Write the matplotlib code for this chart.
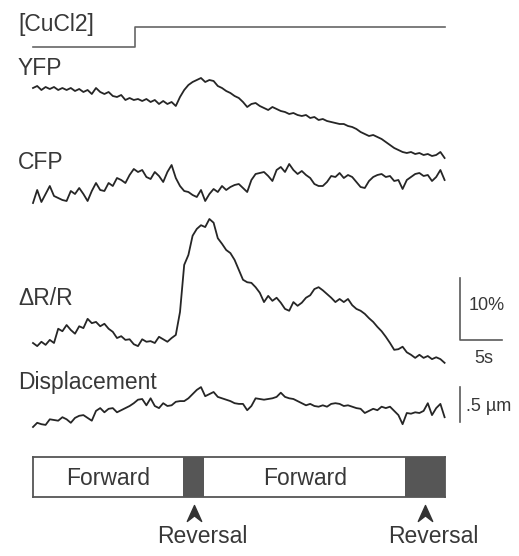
import numpy as np
import matplotlib.pyplot as plt
from matplotlib.path import Path

plt.rcParams["font.family"] = ["Liberation Sans", "DejaVu Sans"]

W, H = 519, 556
ink = "#262626"
grey = "#5a5a5a"
text_col = "#383838"

# sampling interval of the traces (s)
dt = 0.5

# CuCl2 application (step)
cucl2_time = [0, 12.1, 12.1, 49]
cucl2_on = [0, 0, 1, 1]

# YFP fluorescence (a.u.)
yfp = [
    72, 74, 70, 73, 71, 73, 70, 72, 70, 72,
    69, 71, 68, 70, 66, 72, 68, 66, 68, 64,
    63, 65, 60, 62, 60, 61, 59, 61, 58, 60,
    56, 59, 56, 58, 54, 63, 70, 75, 78, 80,
    82, 78, 80, 79, 74, 72, 69, 67, 64, 62,
    58, 53, 56, 57, 54, 52, 50, 53, 51, 49,
    48, 46, 47, 45, 44, 45, 42, 43, 40, 41,
    39, 38, 37, 36, 36, 34, 33, 31, 28, 26,
    24, 25, 23, 21, 18, 15, 12, 10, 8, 7,
    8, 6, 7, 5, 6, 4, 5, 8, 2,
]

# CFP fluorescence (a.u.)
cfp = [
    7, 20, 8, 16, 24, 14, 12, 10, 9, 19,
    16, 22, 16, 9, 19, 27, 20, 19, 27, 24,
    32, 30, 27, 35, 41, 38, 40, 33, 31, 38,
    34, 28, 38, 45, 32, 24, 19, 18, 15, 13,
    20, 9, 16, 21, 18, 24, 20, 23, 25, 26,
    22, 18, 30, 36, 37, 38, 34, 29, 40, 43,
    38, 46, 40, 36, 39, 35, 32, 26, 24, 24,
    28, 34, 33, 37, 32, 35, 33, 28, 23, 22,
    29, 33, 35, 36, 33, 34, 29, 30, 21, 30,
    33, 36, 37, 34, 35, 29, 33, 40, 30,
]

# ratio change dR/R (%)
ratio = [
    0.0, -0.5, 0.2, -0.3, 0.5, 0.0, 2.3, 1.9, 2.9, 2.1,
    1.5, 2.7, 2.4, 3.9, 3.2, 3.4, 2.7, 3.1, 2.3, 1.8,
    0.8, 1.1, 0.5, 0.6, -0.2, -0.5, 0.6, 0.2, 0.3, 0.0,
    1.0, 0.6, 0.2, 0.8, 1.3, 5.0, 12.6, 14.2, 17.3, 18.4,
    19.0, 18.7, 20.0, 19.4, 16.9, 16.0, 15.0, 14.5, 13.4, 11.8,
    10.2, 9.8, 9.7, 9.0, 8.1, 6.6, 7.6, 6.8, 7.3, 6.5,
    5.5, 5.2, 6.6, 6.0, 6.5, 7.3, 7.7, 8.7, 9.0, 8.5,
    7.9, 7.3, 6.6, 7.1, 6.6, 7.1, 6.1, 5.5, 5.2, 4.7,
    4.0, 3.4, 2.6, 1.9, 1.0, 0.0, -1.1, -1.0, -0.6, -1.5,
    -1.9, -2.4, -1.9, -2.4, -2.1, -2.6, -2.3, -2.6, -3.2,
]

# head displacement (um)
displacement = [
    0.00, 0.06, 0.04, 0.03, 0.11, 0.10, 0.09, 0.14, 0.11, 0.06,
    0.13, 0.16, 0.17, 0.13, 0.09, 0.23, 0.27, 0.21, 0.26, 0.27,
    0.21, 0.24, 0.27, 0.30, 0.34, 0.39, 0.40, 0.31, 0.41, 0.30,
    0.27, 0.34, 0.30, 0.31, 0.36, 0.37, 0.37, 0.41, 0.47, 0.53,
    0.57, 0.44, 0.47, 0.50, 0.43, 0.41, 0.39, 0.37, 0.34, 0.33,
    0.33, 0.24, 0.30, 0.41, 0.40, 0.39, 0.40, 0.41, 0.43, 0.49,
    0.43, 0.41, 0.40, 0.37, 0.34, 0.31, 0.33, 0.30, 0.29, 0.31,
    0.29, 0.33, 0.34, 0.33, 0.30, 0.31, 0.29, 0.27, 0.26, 0.20,
    0.23, 0.26, 0.24, 0.29, 0.27, 0.29, 0.23, 0.17, 0.04, 0.20,
    0.19, 0.21, 0.20, 0.23, 0.34, 0.17, 0.27, 0.33, 0.14,
]

# behaviour (s)
reversal_start = [17.9, 44.3]
reversal_length = [2.5, 4.7]
forward_start = [0.0, 20.4]
forward_end = [17.9, 44.3]

t = np.arange(len(yfp)) * dt
t_end = 49

fig = plt.figure(figsize=(W / 100, H / 100), dpi=100)

# page axes in pixel units, for the labels
page = fig.add_axes([0, 0, 1, 1])
page.set_xlim(0, W)
page.set_ylim(H, 0)
page.axis("off")


def strip(top, bottom, lo, hi):
    ax = fig.add_axes([33 / W, 1 - bottom / H, 411.6 / W, (bottom - top) / H])
    ax.set_xlim(0, t_end)
    ax.set_ylim(lo, hi)
    ax.patch.set_alpha(0)
    ax.axis("off")
    return ax


ax_cu = strip(27, 47, 0, 1)
ax_cu.plot(cucl2_time, cucl2_on, color="#666666", lw=1.2, clip_on=False)

ax_y = strip(70, 160, 0, 90)
ax_y.plot(t, yfp, color=ink, lw=1.3, clip_on=False)

ax_c = strip(160, 210, 0, 50)
ax_c.plot(t, cfp, color=ink, lw=1.3, clip_on=False)

ax_r = strip(212.8, 367.8, -4, 21)
ax_r.plot(t, ratio, color=ink, lw=1.3, clip_on=False)
# scale bar 10% / 5 s
ax_r.plot([50.8, 50.8, 55.8], [10.5, 0.5, 0.5], color=grey, lw=1.2, clip_on=False)

ax_d = strip(381.5, 434, -0.1, 0.65)
ax_d.plot(t, displacement, color=ink, lw=1.3, clip_on=False)
# scale bar 0.5 um
ax_d.plot([50.8, 50.8], [0.07, 0.57], color=grey, lw=1.2, clip_on=False)

# behaviour bar
ax_b = fig.add_axes([33 / W, 1 - 497 / H, 411.6 / W, 40 / H])
ax_b.set_xlim(0, t_end)
ax_b.set_ylim(0, 1)
ax_b.set_xticks([])
ax_b.set_yticks([])
ax_b.patch.set_alpha(0)
for s in ax_b.spines.values():
    s.set_color("#555555")
    s.set_linewidth(1.3)
ax_b.barh(0.5, reversal_length, left=reversal_start, height=1, color="#565656")
for a, b in zip(forward_start, forward_end):
    ax_b.text((a + b) / 2, 0.3, "Forward", ha="center", va="baseline",
              fontsize=16.5, color=text_col)

arrow = Path([(0, 0.5), (-0.45, -0.5), (0, -0.15), (0.45, -0.5), (0, 0.5)],
             [Path.MOVETO, Path.LINETO, Path.LINETO, Path.LINETO, Path.CLOSEPOLY])
centres = [s + l / 2 for s, l in zip(reversal_start, reversal_length)]
ax_b.plot(centres, [-0.39] * len(centres), ls="none", marker=arrow,
          markersize=11.5, color="#333333", clip_on=False)
for c in centres:
    ax_b.text(c + 0.95, -1.15, "Reversal", ha="center", va="baseline",
              fontsize=16.5, color=text_col, clip_on=False)

# trace labels
for label, y in [("[CuCl2]", 31), ("YFP", 75), ("CFP", 169),
                 ("\u0394R/R", 305), ("Displacement", 389)]:
    page.text(18, y, label, fontsize=16.5, color=text_col, va="baseline")

page.text(469, 310, "10%", fontsize=13, color=text_col, va="baseline")
page.text(474, 363, "5s", fontsize=13, color=text_col, va="baseline")
page.text(466, 411, ".5 \u00b5m", fontsize=13, color=text_col, va="baseline")

fig.savefig("out.png", dpi=100)
